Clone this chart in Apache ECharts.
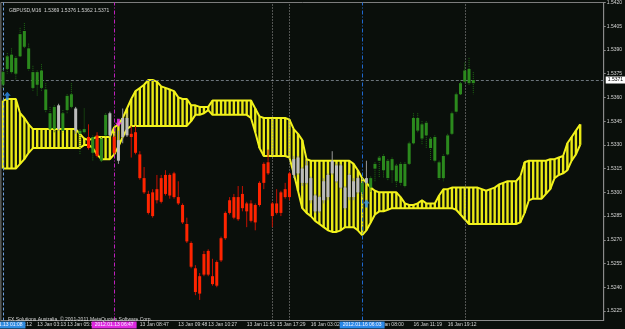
<!DOCTYPE html>
<html>
<head>
<meta charset="utf-8">
<title>GBPUSD,M16</title>
<script src="https://cdn.jsdelivr.net/npm/echarts@6/dist/echarts.min.js"></script>
<style>
  html, body { margin: 0; padding: 0; background: #0a0f0b; }
  #chart { width: 625px; height: 329px; }
</style>
</head>
<body>
<div id="chart"></div>
<script>
// time slots on the x axis (the last few stay empty, chart shift)
const slotCount = 141;

// candles, oldest first
const opens = [
  1.5368, 1.5378, 1.5376, 1.5375, 1.5386, 1.5392, 1.5378, 1.5366, 1.5368, 1.5366,
  1.5352, 1.5340, 1.5340, 1.5355, 1.5339, 1.5352, 1.5354, 1.5353, 1.5337, 1.5338,
  1.5335, 1.5325, 1.5336, 1.5320, 1.5336, 1.5350, 1.5335, 1.5333, 1.5335, 1.5347,
  1.5337, 1.5338, 1.5324, 1.5309, 1.5299, 1.5300, 1.5302, 1.5309, 1.5311, 1.5311,
  1.5312, 1.5297, 1.5292, 1.5280, 1.5268, 1.5252, 1.5247, 1.5261, 1.5263, 1.5247,
  1.5256, 1.5271, 1.5287, 1.5295, 1.5297, 1.5297, 1.5299, 1.5293, 1.5293, 1.5292,
  1.5306, 1.5318, 1.5319, 1.5293, 1.5293, 1.5300, 1.5302, 1.5312, 1.5311, 1.5312,
  1.5315, 1.5306, 1.5309, 1.5298, 1.5288, 1.5295, 1.5297, 1.5312, 1.5317, 1.5317,
  1.5303, 1.5297, 1.5307, 1.5300, 1.5300, 1.5306, 1.5303, 1.5315, 1.5320, 1.5314,
  1.5309, 1.5314, 1.5307, 1.5306, 1.5304, 1.5318, 1.5331, 1.5339, 1.5334, 1.5336,
  1.5328, 1.5320, 1.5309, 1.5309, 1.5324, 1.5337, 1.5351, 1.5362, 1.5370, 1.5369,
  1.5369
];
const highs = [
  1.5378, 1.5388, 1.5391, 1.5386, 1.5404, 1.5407, 1.5394, 1.5380, 1.5377, 1.5381,
  1.5369, 1.5354, 1.5355, 1.5356, 1.5352, 1.5362, 1.5369, 1.5354, 1.5340, 1.5353,
  1.5343, 1.5336, 1.5338, 1.5335, 1.5350, 1.5351, 1.5336, 1.5339, 1.5353, 1.5350,
  1.5342, 1.5342, 1.5326, 1.5316, 1.5301, 1.5302, 1.5311, 1.5311, 1.5314, 1.5312,
  1.5313, 1.5307, 1.5293, 1.5284, 1.5269, 1.5254, 1.5249, 1.5263, 1.5264, 1.5258,
  1.5257, 1.5272, 1.5288, 1.5297, 1.5299, 1.5304, 1.5304, 1.5294, 1.5295, 1.5293,
  1.5307, 1.5319, 1.5327, 1.5294, 1.5302, 1.5301, 1.5306, 1.5313, 1.5323, 1.5323,
  1.5316, 1.5320, 1.5310, 1.5299, 1.5298, 1.5309, 1.5312, 1.5326, 1.5318, 1.5318,
  1.5304, 1.5312, 1.5309, 1.5310, 1.5307, 1.5320, 1.5310, 1.5319, 1.5323, 1.5324,
  1.5321, 1.5322, 1.5318, 1.5319, 1.5319, 1.5332, 1.5350, 1.5350, 1.5345, 1.5345,
  1.5335, 1.5336, 1.5320, 1.5324, 1.5337, 1.5351, 1.5363, 1.5371, 1.5382, 1.5385,
  1.5376
];
const lows = [
  1.5366, 1.5375, 1.5375, 1.5371, 1.5385, 1.5391, 1.5377, 1.5364, 1.5361, 1.5364,
  1.5350, 1.5339, 1.5338, 1.5339, 1.5338, 1.5350, 1.5353, 1.5337, 1.5324, 1.5337,
  1.5327, 1.5320, 1.5322, 1.5319, 1.5335, 1.5335, 1.5324, 1.5318, 1.5331, 1.5335,
  1.5322, 1.5324, 1.5308, 1.5299, 1.5286, 1.5284, 1.5293, 1.5293, 1.5298, 1.5296,
  1.5296, 1.5292, 1.5280, 1.5268, 1.5252, 1.5235, 1.5232, 1.5247, 1.5247, 1.5241,
  1.5240, 1.5256, 1.5270, 1.5286, 1.5283, 1.5282, 1.5288, 1.5278, 1.5281, 1.5276,
  1.5291, 1.5302, 1.5311, 1.5278, 1.5286, 1.5285, 1.5296, 1.5295, 1.5309, 1.5311,
  1.5304, 1.5305, 1.5293, 1.5287, 1.5287, 1.5293, 1.5295, 1.5311, 1.5306, 1.5302,
  1.5289, 1.5295, 1.5295, 1.5299, 1.5297, 1.5305, 1.5300, 1.5307, 1.5309, 1.5309,
  1.5307, 1.5306, 1.5303, 1.5304, 1.5303, 1.5317, 1.5330, 1.5338, 1.5330, 1.5328,
  1.5320, 1.5319, 1.5308, 1.5307, 1.5323, 1.5336, 1.5350, 1.5361, 1.5369, 1.5368,
  1.5362
];
const closes = [
  1.5376, 1.5386, 1.5387, 1.5385, 1.5400, 1.5402, 1.5391, 1.5376, 1.5376, 1.5377,
  1.5365, 1.5350, 1.5354, 1.5340, 1.5350, 1.5361, 1.5362, 1.5339, 1.5339, 1.5340,
  1.5328, 1.5335, 1.5323, 1.5334, 1.5349, 1.5336, 1.5325, 1.5320, 1.5347, 1.5336,
  1.5335, 1.5325, 1.5309, 1.5300, 1.5287, 1.5285, 1.5295, 1.5294, 1.5299, 1.5298,
  1.5297, 1.5293, 1.5281, 1.5269, 1.5253, 1.5237, 1.5236, 1.5248, 1.5248, 1.5242,
  1.5241, 1.5257, 1.5271, 1.5287, 1.5284, 1.5283, 1.5290, 1.5288, 1.5282, 1.5281,
  1.5292, 1.5306, 1.5312, 1.5285, 1.5287, 1.5287, 1.5297, 1.5297, 1.5321, 1.5322,
  1.5306, 1.5317, 1.5295, 1.5288, 1.5297, 1.5307, 1.5311, 1.5320, 1.5307, 1.5303,
  1.5290, 1.5311, 1.5297, 1.5309, 1.5306, 1.5309, 1.5309, 1.5318, 1.5322, 1.5323,
  1.5320, 1.5321, 1.5317, 1.5318, 1.5318, 1.5331, 1.5347, 1.5347, 1.5343, 1.5344,
  1.5334, 1.5335, 1.5319, 1.5323, 1.5336, 1.5350, 1.5362, 1.5369, 1.5377, 1.5378,
  1.5371
];
// g = above the cloud, r = below, w = inside
const tones = [
  'gggggggggg', 'gggwgggwgg', 'rgrggwrwww', 'rrrrrrrrrr', 'rrrrrrrrrr',
  'rrrrrrrrrr', 'rrrrrrrrww', 'wwwwwwwwww', 'wwwwgwgggg', 'gggggggggg',
  'gggggggggg', 'g'
].join('').split('');

// ichimoku cloud (senkou spans, already shifted forward)
const spanA = [
  1.5358, 1.5359, 1.5359, 1.5359, 1.5350, 1.5347, 1.5343, 1.5340, 1.5340, 1.5340,
  1.5340, 1.5340, 1.5340, 1.5340, 1.5340, 1.5340, 1.5340, 1.5340, 1.5337, 1.5334,
  1.5333, 1.5334, 1.5335, 1.5335, 1.5335, 1.5335, 1.5341, 1.5343, 1.5347, 1.5353,
  1.5359, 1.5364, 1.5366, 1.5368, 1.5371, 1.5371, 1.5370, 1.5367, 1.5366, 1.5365,
  1.5364, 1.5360, 1.5359, 1.5359, 1.5355, 1.5355, 1.5354, 1.5354, 1.5354, 1.5358,
  1.5358, 1.5358, 1.5358, 1.5358, 1.5358, 1.5358, 1.5358, 1.5358, 1.5358, 1.5353,
  1.5348, 1.5347, 1.5347, 1.5347, 1.5347, 1.5347, 1.5347, 1.5346, 1.5340, 1.5337,
  1.5333, 1.5321, 1.5320, 1.5320, 1.5320, 1.5320, 1.5320, 1.5320, 1.5320, 1.5320,
  1.5320, 1.5320, 1.5318, 1.5314, 1.5309, 1.5306, 1.5303, 1.5301, 1.5300, 1.5300,
  1.5300, 1.5300, 1.5300, 1.5297, 1.5293, 1.5292, 1.5292, 1.5293, 1.5295, 1.5293,
  1.5293, 1.5293, 1.5298, 1.5302, 1.5302, 1.5303, 1.5303, 1.5303, 1.5303, 1.5303,
  1.5303, 1.5303, 1.5302, 1.5301, 1.5302, 1.5303, 1.5305, 1.5306, 1.5307, 1.5307,
  1.5307, 1.5310, 1.5319, 1.5320, 1.5320, 1.5320, 1.5320, 1.5320, 1.5321, 1.5321,
  1.5322, 1.5323, 1.5331, 1.5335, 1.5339, 1.5343
];
const spanB = [
  1.5315, 1.5315, 1.5315, 1.5315, 1.5318, 1.5321, 1.5325, 1.5328, 1.5328, 1.5328,
  1.5328, 1.5328, 1.5328, 1.5328, 1.5328, 1.5328, 1.5328, 1.5328, 1.5328, 1.5330,
  1.5330, 1.5328, 1.5324, 1.5321, 1.5321, 1.5321, 1.5324, 1.5329, 1.5335, 1.5340,
  1.5342, 1.5342, 1.5342, 1.5342, 1.5342, 1.5342, 1.5342, 1.5342, 1.5342, 1.5342,
  1.5342, 1.5342, 1.5342, 1.5342, 1.5345, 1.5349, 1.5349, 1.5350, 1.5352, 1.5349,
  1.5349, 1.5349, 1.5349, 1.5349, 1.5349, 1.5349, 1.5349, 1.5349, 1.5347, 1.5338,
  1.5328, 1.5323, 1.5323, 1.5323, 1.5323, 1.5323, 1.5323, 1.5322, 1.5312, 1.5301,
  1.5290, 1.5287, 1.5285, 1.5282, 1.5280, 1.5278, 1.5276, 1.5275, 1.5275, 1.5276,
  1.5278, 1.5278, 1.5278, 1.5276, 1.5273, 1.5276, 1.5281, 1.5286, 1.5288, 1.5288,
  1.5289, 1.5290, 1.5290, 1.5290, 1.5290, 1.5290, 1.5290, 1.5290, 1.5290, 1.5290,
  1.5290, 1.5290, 1.5290, 1.5290, 1.5290, 1.5290, 1.5289, 1.5286, 1.5283, 1.5280,
  1.5280, 1.5280, 1.5280, 1.5280, 1.5280, 1.5280, 1.5280, 1.5280, 1.5280, 1.5280,
  1.5280, 1.5281, 1.5287, 1.5295, 1.5296, 1.5296, 1.5296, 1.5299, 1.5302, 1.5309,
  1.5311, 1.5312, 1.5314, 1.5320, 1.5324, 1.5330
];

// signal arrows [slot, price]
const arrowsUp = [[1, 1.5361], [85, 1.5293]];
const arrowsDown = [[27, 1.5344]];

// vertical line objects and their time boxes
const vlineIdx = [0, 26, 63, 67, 84, 108];
const vlineText = ['2012.01.13 01:08', '2012.01.13 06:47', '', '', '2012.01.16 06:03', ''];

// axis labels
const timeTickIdx = [0, 8, 15, 32, 41, 48, 57, 64, 72, 87, 96, 104];
const timeTickText = ['13 Jan 01:12', '13 Jan 03:13', '13 Jan 05:17', '13 Jan 08:47', '13 Jan 09:48',
  '13 Jan 10:27', '13 Jan 11:51', '15 Jan 17:29', '16 Jan 03:02', '16 Jan 08:00', '16 Jan 11:19', '16 Jan 19:12'];
const priceTicks = [1.5225, 1.5240, 1.5255, 1.5270, 1.5285, 1.5300, 1.5315, 1.5330,
  1.5345, 1.5360, 1.5375, 1.5390, 1.5405, 1.5420];

const FONT = 'Liberation Sans';
const TXT = '#d4d4d4';
const last = opens.length - 1;
const toneStyle = {
  g: { body: '#2b8a1d', wick: '#1e6a12', dash: [1, 1] },
  r: { body: '#ff2400', wick: '#c41000', dash: null },
  w: { body: '#bcbcbc', wick: '#9a9a9a', dash: null }
};
const vlineStyle = [
  { color: '#6f9fdc', type: [3, 2], box: '#2f8be0' },
  { color: '#c020c0', type: [4, 2, 1, 2], box: '#e028e0' },
  { color: '#9a9a9a', type: [1, 2] },
  { color: '#9a9a9a', type: [1, 2] },
  { color: '#1f68d0', type: [4, 2, 1, 2], box: '#2a88e8' },
  { color: '#9a9a9a', type: [1, 2] }
];

const slots = Array.from({ length: slotCount }, (_, i) => String(i));
const candleData = opens.map((o, i) => [i, o, highs[i], lows[i], closes[i]]);
const kumoData = spanA.map((a, i) => [i, a, spanB[i]]);
const header = 'GBPUSD,M16  ' + [opens[last], highs[last], lows[last], closes[last]]
  .map(v => v.toFixed(4)).join(' ');

const arrowPath = 'path://M5,0 L10,5 L7,5 L7,10 L3,10 L3,5 L0,5 Z';

const chart = echarts.init(document.getElementById('chart'));
chart.setOption({
  animation: false,
  backgroundColor: '#0a0f0b',
  title: [
    { text: header, left: 4, top: 3,
      textStyle: { fontSize: 5, color: TXT, fontWeight: 'normal', fontFamily: FONT } },
    { text: 'FX Solutions Australia, \u00a9 2001-2011 MetaQuotes Software Corp.', left: 3, top: 312,
      textStyle: { fontSize: 5, color: TXT, fontWeight: 'normal', fontFamily: FONT } }
  ],
  grid: { left: 0, right: 21, top: 2, bottom: 8.5, show: true, borderColor: '#7d7d7d', borderWidth: 1 },
  xAxis: {
    type: 'category',
    data: slots,
    axisLine: { lineStyle: { color: '#8a8a8a' } },
    axisTick: {
      alignWithLabel: true, length: 2,
      interval: i => timeTickIdx.indexOf(i) >= 0,
      lineStyle: { color: '#8a8a8a' }
    },
    axisLabel: {
      interval: i => timeTickIdx.indexOf(i) >= 0,
      formatter: (v, i) => timeTickText[timeTickIdx.indexOf(i)] || '',
      align: 'left', margin: 2, fontSize: 5, color: TXT, fontFamily: FONT
    },
    splitLine: { show: false }
  },
  yAxis: {
    type: 'value',
    position: 'right',
    min: 1.5219,
    max: 1.5420,
    axisLine: { show: true, lineStyle: { color: '#8a8a8a' } },
    axisTick: { show: true, length: 2, customValues: priceTicks, lineStyle: { color: '#8a8a8a' } },
    axisLabel: {
      customValues: priceTicks,
      formatter: v => v.toFixed(4),
      margin: 3, fontSize: 5, color: TXT, fontFamily: FONT
    },
    splitLine: { show: false }
  },
  series: [
    {
      name: 'kumo',
      type: 'custom',
      z: 2,
      data: kumoData,
      encode: { x: 0, y: [1, 2] },
      renderItem: (params, api) => {
        const pa = api.coord([api.value(0), api.value(1)]);
        const pb = api.coord([api.value(0), api.value(2)]);
        return {
          type: 'rect',
          shape: { x: pa[0] - 1.2, y: Math.min(pa[1], pb[1]), width: 2.4, height: Math.abs(pa[1] - pb[1]) },
          style: { fill: '#e9e914' }
        };
      }
    },
    {
      name: 'Senkou A', type: 'line', data: spanA, z: 3,
      symbol: 'none', lineStyle: { color: '#f2f21c', width: 2 },
      // bid line of the last close
      markLine: {
        silent: true,
        precision: 4,
        symbol: ['none', 'none'],
        data: [{
          yAxis: closes[last],
          lineStyle: { color: '#6c757c', type: [3, 2], width: 1 },
          label: {
            show: true, position: 'end', distance: 2,
            formatter: closes[last].toFixed(4),
            backgroundColor: '#ffffff', color: '#000000',
            fontSize: 5, fontFamily: FONT, padding: [1, 2]
          }
        }]
      }
    },
    {
      name: 'Senkou B', type: 'line', data: spanB, z: 3,
      symbol: 'none', lineStyle: { color: '#f2f21c', width: 2 }
    },
    {
      name: 'GBPUSD',
      type: 'custom',
      z: 5,
      data: candleData,
      encode: { x: 0, y: [1, 2, 3, 4] },
      renderItem: (params, api) => {
        const i = api.value(0);
        const pO = api.coord([i, api.value(1)]);
        const pH = api.coord([i, api.value(2)]);
        const pL = api.coord([i, api.value(3)]);
        const pC = api.coord([i, api.value(4)]);
        const st = toneStyle[tones[params.dataIndex]];
        const top = Math.min(pO[1], pC[1]);
        const h = Math.max(Math.abs(pO[1] - pC[1]), 1);
        return {
          type: 'group',
          children: [
            { type: 'line', shape: { x1: pH[0], y1: pH[1], x2: pL[0], y2: pL[1] },
              style: { stroke: st.wick, lineWidth: 1, lineDash: st.dash } },
            { type: 'rect', shape: { x: pO[0] - 1.5, y: top, width: 3, height: h },
              style: { fill: st.body } }
          ]
        };
      },
      markLine: {
        silent: true,
        symbol: ['none', 'none'],
        data: vlineIdx.map((idx, k) => ({
          xAxis: idx,
          lineStyle: { color: vlineStyle[k].color, type: vlineStyle[k].type, width: 1 },
          label: vlineText[k] ? {
            show: true, position: 'start', distance: 1,
            formatter: vlineText[k],
            backgroundColor: vlineStyle[k].box, color: '#f4f4ff',
            fontSize: 5, fontFamily: FONT, padding: [1, 3]
          } : { show: false }
        }))
      }
    },
    {
      name: 'up', type: 'scatter', z: 6, data: arrowsUp,
      symbol: arrowPath, symbolSize: [7, 8], itemStyle: { color: '#2a8cf0' }
    },
    {
      name: 'down', type: 'scatter', z: 6, data: arrowsDown,
      symbol: arrowPath, symbolSize: [7, 8], symbolRotate: 180, itemStyle: { color: '#ff30ff' }
    }
  ]
});
</script>
</body>
</html>
